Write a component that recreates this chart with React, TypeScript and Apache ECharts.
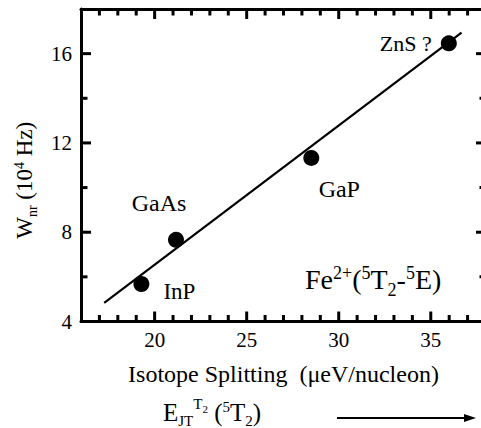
import React, { useEffect, useRef } from 'react';
import * as echarts from 'echarts';

// ---- data ----
const materials = ['InP', 'GaAs', 'GaP', 'ZnS ?'];
const isotopeSplitting = [19.28, 21.16, 28.51, 35.98]; // µeV/nucleon
const wnr = [5.68, 7.66, 11.33, 16.46]; // 10^4 Hz
const fitX = [17.26, 36.67];
const fitY = [4.83, 16.94];
const xTicks = [17, 18, 19, 20, 21, 22, 23, 24, 25, 26, 27, 28, 29, 30, 31, 32, 33, 34, 35, 36, 37];
const xMajorTicks = [20, 25, 30, 35];
const yTicks = [6, 8, 10, 12, 14, 16];
const yMajorTicks = [4, 8, 12, 16];
const X_MIN = 16;
const X_MAX = 38;
const Y_MIN = 4;
const Y_MAX = 18;

const FONT = 'Liberation Serif';
const INK = '#000';

// label placement (style, not data)
const labelPlacement: Record<string, any> = {
  InP: { position: 'inside', offset: [38, 7], rich: { n: { fontSize: 23, fontFamily: FONT, color: INK } } },
  GaAs: { position: 'inside', offset: [-17, -37], rich: { n: { fontSize: 24, fontFamily: FONT, color: INK } } },
  GaP: { position: 'inside', offset: [28, 31], rich: { n: { fontSize: 24, fontFamily: FONT, color: INK } } },
  'ZnS ?': { position: 'left', distance: 9, rich: { n: { fontSize: 22, fontFamily: FONT, color: INK } } },
};

const richStyles = (main: number, small: number, lh: number, supPad: number) => ({
  m: { fontSize: main, fontFamily: FONT, color: INK, lineHeight: lh },
  sup: { fontSize: small, fontFamily: FONT, color: INK, verticalAlign: 'top', lineHeight: small, padding: [supPad, 0, 0, 0] },
  hsup: { fontSize: small, fontFamily: FONT, color: INK, verticalAlign: 'top', lineHeight: small },
  sub: { fontSize: small, fontFamily: FONT, color: INK, verticalAlign: 'bottom', lineHeight: small },
  ss: { fontSize: Math.round(small * 0.7), fontFamily: FONT, color: INK, verticalAlign: 'top', lineHeight: Math.round(small * 0.7), padding: [Math.round(small * 0.45), 0, 0, 0] },
});

const tickRich = { t: { fontSize: 21, fontFamily: FONT, color: INK } };

// tick marks drawn as small rect symbols placed through the axes' scales
const TICK_W = 3;
const tickLen = (v: number, majors: number[]) => (majors.includes(v) ? 10 : 6.5);
const tickData = [
  ...xTicks.map((v) => ({ value: [v, Y_MIN], symbolSize: [TICK_W, tickLen(v, xMajorTicks)], symbolOffset: [0, -tickLen(v, xMajorTicks) / 2] })),
  ...xTicks.map((v) => ({ value: [v, Y_MAX], symbolSize: [TICK_W, tickLen(v, xMajorTicks)], symbolOffset: [0, tickLen(v, xMajorTicks) / 2] })),
  ...yTicks.map((v) => ({ value: [X_MIN, v], symbolSize: [tickLen(v, yMajorTicks), TICK_W], symbolOffset: [tickLen(v, yMajorTicks) / 2, 0] })),
  ...yTicks.map((v) => ({ value: [X_MAX, v], symbolSize: [tickLen(v, yMajorTicks), TICK_W], symbolOffset: [-tickLen(v, yMajorTicks) / 2, 0] })),
];

export default function App() {
  const ref = useRef<HTMLDivElement>(null);
  useEffect(() => {
    if (!ref.current) return;
    const chart = echarts.init(ref.current, undefined, { renderer: 'svg' });
    const commonX = { type: 'value', min: X_MIN, max: X_MAX, interval: 1, splitLine: { show: false }, axisTick: { show: false } };
    const commonY = { type: 'value', min: Y_MIN, max: Y_MAX, interval: 2, splitLine: { show: false }, axisTick: { show: false } };
    const frame = { color: INK, width: 3 };
    const option: any = {
      animation: false,
      backgroundColor: '#fff',
      textStyle: { fontFamily: FONT, color: INK },
      grid: { left: 81, right: 4, top: 9, bottom: 106.5 },
      xAxis: [
        {
          ...commonX,
          position: 'bottom',
          axisLine: { show: true, lineStyle: frame },
          axisLabel: {
            show: true,
            fontSize: 21,
            fontFamily: FONT,
            color: INK,
            margin: 8,
            rich: tickRich,
            formatter: (v: number) => (xMajorTicks.includes(v) ? `{t|${v}}` : ''),
          },
          name: '{m|Isotope Splitting\u00a0 (\u03bceV/nucleon)}',
          nameLocation: 'middle',
          nameGap: 40,
          nameTextStyle: { fontSize: 24, fontFamily: FONT, color: INK, rich: { m: { fontSize: 24, fontFamily: FONT, color: INK } } },
        },
        {
          ...commonX,
          position: 'top',
          axisLine: { show: true, lineStyle: frame },
          axisLabel: { show: false },
        },
      ],
      yAxis: [
        {
          ...commonY,
          position: 'left',
          axisLine: { show: true, lineStyle: frame },
          axisLabel: {
            show: true,
            fontSize: 21,
            fontFamily: FONT,
            color: INK,
            margin: 9,
            rich: tickRich,
            formatter: (v: number) => (yMajorTicks.includes(v) ? `{t|${v}}` : ''),
          },
          name: '{m|W}{sub|nr}{m| (10}{sup|4}{m| Hz)}',
          nameLocation: 'middle',
          nameRotate: 90,
          nameGap: 42,
          nameTextStyle: { rich: richStyles(23, 14, 30, 3), padding: [0, 30, 0, 0] },
        },
        {
          ...commonY,
          position: 'right',
          axisLine: { show: true, lineStyle: frame },
          axisLabel: { show: false },
        },
      ],
      series: [
        {
          type: 'line',
          xAxisIndex: 0,
          yAxisIndex: 0,
          data: fitX.map((x, i) => [x, fitY[i]]),
          symbol: 'none',
          lineStyle: { color: INK, width: 2.2 },
          z: 2,
        },
        {
          type: 'scatter',
          xAxisIndex: 0,
          yAxisIndex: 0,
          symbolSize: 16,
          itemStyle: { color: INK, opacity: 1 },
          z: 3,
          data: materials.map((m, i) => ({
            name: m,
            value: [isotopeSplitting[i], wnr[i]],
            label: { ...labelPlacement[m] },
          })),
          label: { show: true, formatter: '{n|{b}}', fontSize: 24, fontFamily: FONT, color: INK },
        },
        {
          type: 'scatter',
          xAxisIndex: 0,
          yAxisIndex: 0,
          symbol: 'rect',
          silent: true,
          clip: false,
          itemStyle: { color: INK, opacity: 1 },
          z: 5,
          data: tickData,
        },
      ],
      graphic: [
        {
          type: 'text',
          x: 305,
          y: 279,
          style: {
            text: '{m|Fe}{sup|2+}{m|(}{sup|5}{m|T}{sub|2}{m|-}{sup|5}{m|E)}',
            rich: richStyles(28, 18, 40, 5),
            verticalAlign: 'middle',
            align: 'left',
          },
        },
        {
          type: 'text',
          x: 163,
          y: 412,
          style: {
            text: '{m|E}{sub|JT}{hsup|T}{ss|2}{m|\u00a0(}{sup|5}{m|T}{sub|2}{m|)}',
            rich: richStyles(25, 15, 32, 3),
            verticalAlign: 'middle',
            align: 'left',
          },
        },
        {
          type: 'line',
          shape: { x1: 337, y1: 418, x2: 468, y2: 418 },
          style: { stroke: INK, lineWidth: 2 },
        },
        {
          type: 'polygon',
          shape: { points: [[464, 414], [476, 418], [464, 422]] },
          style: { fill: INK },
        },
      ],
    };
    chart.setOption(option);
    return () => chart.dispose();
  }, []);
  return (
    <div style={{ position: 'absolute', left: 0, top: 0, width: 481, height: 428, overflow: 'hidden' }}>
      <div ref={ref} style={{ width: 490, height: 428 }} />
    </div>
  );
}
